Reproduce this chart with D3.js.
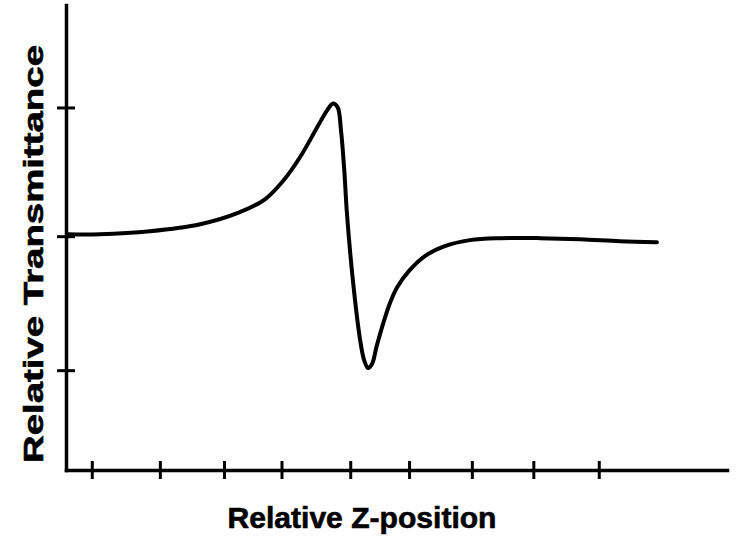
<!DOCTYPE html>
<html>
<head>
<meta charset="utf-8">
<script src="https://cdn.jsdelivr.net/npm/d3@7"></script>
<style>
  html, body { margin: 0; padding: 0; background: #fff; }
  svg { display: block; }
</style>
</head>
<body>
<svg id="chart" width="738" height="536"></svg>
<script>
// z-scan trace, relative units
const zPos = [0.02, 0.51, 1.27, 2.03, 2.63, 3.01, 3.28, 3.54, 3.80, 3.95, 4.04, 4.11, 4.16, 4.21, 4.25,
  4.34, 4.45, 4.51, 4.57, 4.63, 4.70, 4.80, 4.90, 5.01, 5.20, 5.43, 5.73, 6.11, 6.57, 7.17, 7.78, 8.38, 8.94];
const trans = [0.015, 0.015, 0.038, 0.091, 0.183, 0.281, 0.418, 0.601, 0.829, 0.958, 1.011, 0.981, 0.806, 0.502, 0.175,
  -0.335, -0.791, -0.943, -1.004, -0.973, -0.837, -0.662, -0.510, -0.388, -0.259, -0.152, -0.076, -0.030, -0.015, -0.015, -0.023, -0.038, -0.046];
const xTicks = [0.39, 1.42, 2.39, 3.26, 4.30, 5.19, 6.14, 7.07, 8.06];
const yTicks = [0.98, 0, -1.02];
const xTitle = "Relative Z-position";
const yTitle = "Relative Transmittance";

const svg = d3.select("#chart");
const margin = { left: 66, right: 11, top: 5, bottom: 66 };
const W = 738, H = 536;

const x = d3.scaleLinear([0, 10], [margin.left, W - margin.right]);
const y = d3.scaleLinear([-1.78, 1.76], [H - margin.bottom, margin.top]);

// axes: ticks cross the axis line
const xAxis = svg.append("g")
  .attr("transform", `translate(0,${H - margin.bottom})`)
  .call(d3.axisBottom(x).tickValues(xTicks).tickSizeInner(9).tickSizeOuter(0).tickFormat(""));
xAxis.selectAll(".tick line").attr("y1", -9);

const yAxis = svg.append("g")
  .attr("transform", `translate(${margin.left},0)`)
  .call(d3.axisLeft(y).tickValues(yTicks).tickSizeInner(9).tickSizeOuter(0).tickFormat(""));
yAxis.selectAll(".tick line").attr("x1", 9);

svg.selectAll(".domain").attr("stroke", "#000").attr("stroke-width", 3.5).attr("stroke-linecap", "square");
svg.selectAll(".tick line").attr("stroke", "#000").attr("stroke-width", 3);

// trace
const pts = zPos.map((z, i) => [z, trans[i]]);
svg.append("path").datum(pts)
  .attr("d", d3.line().x(d => x(d[0])).y(d => y(d[1])).curve(d3.curveCatmullRom.alpha(0.5)))
  .attr("fill", "none").attr("stroke", "#000").attr("stroke-width", 4)
  .attr("stroke-linecap", "round").attr("stroke-linejoin", "round");

// titles
svg.append("text")
  .attr("x", 362).attr("y", 528)
  .attr("text-anchor", "middle")
  .attr("font-family", "'Liberation Sans', Arial, sans-serif")
  .attr("font-weight", 700).attr("font-size", 29)
  .attr("stroke", "#000").attr("stroke-width", 0.6)
  .attr("textLength", 269).attr("lengthAdjust", "spacingAndGlyphs")
  .text(xTitle);

svg.append("text")
  .attr("transform", "translate(43,254) rotate(-90)")
  .attr("text-anchor", "middle")
  .attr("font-family", "'Liberation Sans', Arial, sans-serif")
  .attr("font-weight", 700).attr("font-size", 27)
  .attr("stroke", "#000").attr("stroke-width", 0.6)
  .attr("textLength", 418).attr("lengthAdjust", "spacingAndGlyphs")
  .text(yTitle);
</script>
</body>
</html>
